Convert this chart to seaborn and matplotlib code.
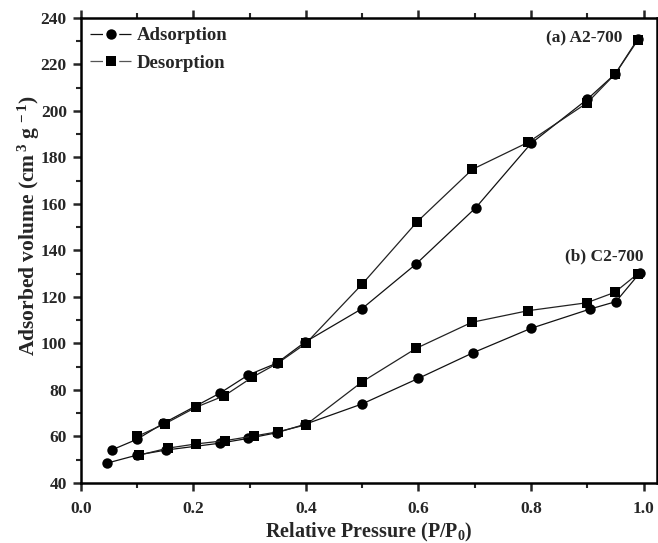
import matplotlib
matplotlib.use("Agg")
import matplotlib.pyplot as plt
from matplotlib.ticker import MultipleLocator
import seaborn as sns
import pandas as pd

# A2-700 isotherm
a2_ads_p = [0.055, 0.10, 0.147, 0.247, 0.298, 0.348, 0.398, 0.50, 0.596, 0.702, 0.80, 0.90, 0.95, 0.99]
a2_ads_v = [54.2, 58.8, 65.7, 78.6, 86.5, 91.5, 100.5, 115.0, 134.2, 158.4, 186.0, 205.0, 216.0, 231.0]
a2_des_p = [0.99, 0.95, 0.90, 0.795, 0.696, 0.598, 0.50, 0.40, 0.35, 0.305, 0.255, 0.205, 0.15, 0.10]
a2_des_v = [230.5, 216.0, 203.5, 186.5, 174.9, 152.4, 125.5, 100.0, 91.5, 85.5, 77.5, 72.6, 65.5, 60.0]

# C2-700 isotherm
c2_ads_p = [0.046, 0.10, 0.152, 0.247, 0.298, 0.348, 0.398, 0.50, 0.60, 0.697, 0.80, 0.905, 0.951, 0.993]
c2_ads_v = [48.5, 52.0, 54.2, 57.1, 59.2, 61.6, 65.2, 74.0, 85.0, 96.0, 106.5, 114.8, 118.0, 130.2]
c2_des_p = [0.99, 0.949, 0.899, 0.795, 0.695, 0.596, 0.50, 0.40, 0.35, 0.307, 0.256, 0.205, 0.155, 0.104]
c2_des_v = [130.0, 122.0, 117.5, 114.1, 109.1, 97.9, 83.5, 65.0, 62.0, 60.2, 58.2, 56.8, 55.0, 52.0]

x_ticks = [0.0, 0.2, 0.4, 0.6, 0.8, 1.0]
x_tick_labels = ["0.0", "0.2", "0.4", "0.6", "0.8", "1.0"]

sns.set_theme(style="ticks")
plt.rcParams["font.family"] = ["Liberation Serif", "DejaVu Serif"]
plt.rcParams["font.weight"] = "bold"
plt.rcParams["mathtext.fontset"] = "custom"
plt.rcParams["mathtext.rm"] = "Liberation Serif:bold"
plt.rcParams["mathtext.it"] = "Liberation Serif:bold"
plt.rcParams["mathtext.bf"] = "Liberation Serif:bold"

fig = plt.figure(figsize=(6.58, 5.43), dpi=100)
ax = fig.add_axes([0.1227, 0.1105, 0.8758, 0.8565])

ads_col = "#111111"
des_col = "#222222"
ms = 7.5
lw = 0.9

def draw(p, v, marker, color, label=None):
    df = pd.DataFrame({"p": p, "v": v})
    sns.lineplot(data=df, x="p", y="v", ax=ax, sort=False, color=color,
                 marker=marker, markersize=ms, markeredgewidth=0,
                 markerfacecolor="black", linewidth=lw, label=label)

draw(a2_ads_p, a2_ads_v, "o", ads_col, "Adsorption")
draw(a2_des_p, a2_des_v, "s", des_col, "Desorption")
draw(c2_ads_p, c2_ads_v, "o", ads_col)
draw(c2_des_p, c2_des_v, "s", des_col)

ax.set_xlim(0, 1.024)
ax.set_ylim(40, 240)
ax.xaxis.set_minor_locator(MultipleLocator(0.1))
ax.yaxis.set_major_locator(MultipleLocator(20))
ax.yaxis.set_minor_locator(MultipleLocator(10))
ax.set_xticks(x_ticks)
ax.set_xticklabels(x_tick_labels)

ax.tick_params(which="major", direction="out", length=6, width=1.8,
               labelsize=12.5, top=True, right=True)
ax.tick_params(axis="x", which="major", pad=7)
ax.tick_params(axis="y", which="major", pad=4)
ax.tick_params(which="minor", direction="out", length=3.5, width=1.5,
               top=True, right=True)
ax.tick_params(axis="x", labeltop=False)
ax.tick_params(axis="y", labelright=False)
for lab in ax.get_xticklabels() + ax.get_yticklabels():
    lab.set_fontweight("bold")
for s in ax.spines.values():
    s.set_linewidth(1.8)
    s.set_color("black")

ax.set_xlabel("Relative Pressure (P/P$_0$)", fontsize=14.5, fontweight="bold", labelpad=3)
ax.set_ylabel("Adsorbed volume (cm$^{\\,3}$ g$^{\\,-1}$)", fontsize=15.5, fontweight="bold")
ax.yaxis.set_label_coords(-0.067, 0.553)

ax.text(0.963, 231, "(a) A2-700", fontsize=12.5, fontweight="bold", ha="right", va="center")
ax.text(1.0, 137.3, "(b) C2-700", fontsize=12.5, fontweight="bold", ha="right", va="center")

leg = ax.legend(loc="upper left", frameon=False, fontsize=13.5, handlelength=2.2,
                handletextpad=0.3, borderaxespad=0.2, labelspacing=0.55,
                borderpad=0.3)
# dash lengths are scaled by line width, so divide to keep them in points
dash = (0, (9.0 / lw, 11.7 / lw, 9.0 / lw))
for i, ln in enumerate(leg.get_lines()):
    ln.set_linestyle(dash)
    if i == 1:
        ln.set_color("#555555")
        ln.set_markerfacecolor("black")
for t in leg.get_texts():
    t.set_fontweight("bold")

fig.savefig("out.png", dpi=100)
